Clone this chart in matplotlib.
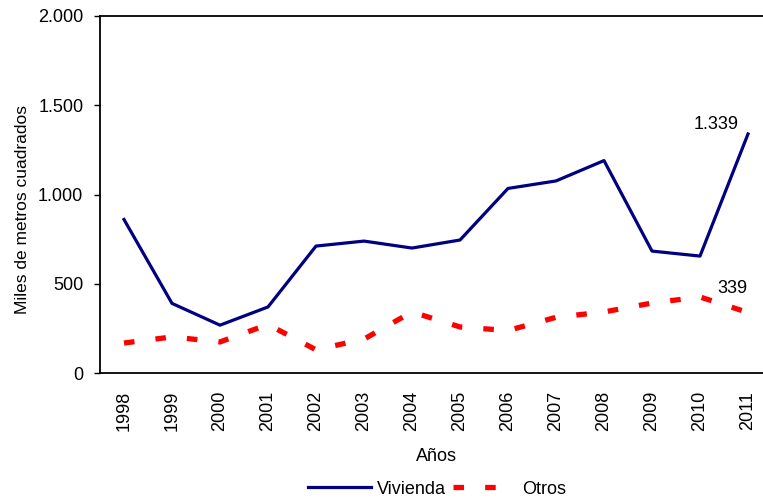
import matplotlib
matplotlib.use('Agg')
from matplotlib import pyplot as plt
from matplotlib.ticker import FuncFormatter

plt.rcParams['font.family'] = ['Liberation Sans', 'DejaVu Sans']

# data
years = [1998, 1999, 2000, 2001, 2002, 2003, 2004, 2005, 2006, 2007, 2008, 2009, 2010, 2011]
vivienda = [860, 390, 268, 370, 711, 739, 700, 745, 1034, 1076, 1190, 683, 655, 1339]
otros = [168, 202, 174, 272, 130, 190, 342, 258, 238, 312, 342, 392, 426, 339]

fig = plt.figure(figsize=(7.63, 5.0), dpi=100)
ax = fig.add_axes([100 / 763, 127 / 500, 663 / 763, 357 / 500])

ax.plot(years, vivienda, color='#000080', linewidth=2.3, label='Vivienda')
ax.plot(years, otros, color='#ff0000', linewidth=3.8, dashes=(2, 4), label='Otros')

ax.set_xlim(1997.5, 1997.5 + 14 * 663 / 672)
ax.set_ylim(0, 2000)
ax.set_yticks([0, 500, 1000, 1500, 2000])
ax.yaxis.set_major_formatter(FuncFormatter(lambda v, p: f'{int(v):,}'.replace(',', '.')))
ax.set_xticks(years)
ax.set_xticklabels([str(y) for y in years], rotation=90)
ax.tick_params(axis='x', length=0, pad=13, labelsize=13)
ax.tick_params(axis='y', direction='out', length=4, labelsize=13, width=1, pad=8)

for side in ['left', 'bottom', 'top']:
    ax.spines[side].set_linewidth(1.3)
ax.spines['right'].set_visible(False)

ax.set_ylabel('Miles de metros cuadrados', fontsize=12.5)
ax.yaxis.set_label_coords(-0.105, 0.457)
ax.set_xlabel('Años', fontsize=13)
ax.xaxis.set_label_coords(0.508, -0.21)

ax.annotate(f'{vivienda[-1]:,}'.replace(',', '.'), (years[-1], vivienda[-1]),
            xytext=(-23, 7), textcoords='offset points', ha='center', va='center', fontsize=13)
ax.annotate(str(otros[-1]), (years[-1], otros[-1]),
            xytext=(-11, 17), textcoords='offset points', ha='center', va='center', fontsize=13)

fig.legend(loc='center', bbox_to_anchor=(437 / 763, 11 / 500), ncol=2, frameon=False,
           fontsize=13, handlelength=3.5, columnspacing=0.4, handletextpad=0.3)

plt.savefig('out.png', dpi=100)
